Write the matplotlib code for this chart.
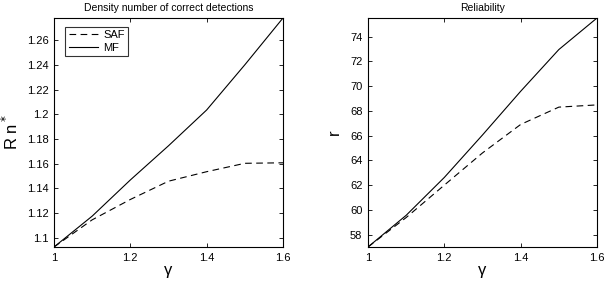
import matplotlib
matplotlib.use("Agg")
import matplotlib.pyplot as plt

plt.rcParams['font.family'] = ['Liberation Sans', 'DejaVu Sans']

gamma = [1.0, 1.1, 1.2, 1.3, 1.4, 1.5, 1.6]
rn_saf = [1.0925, 1.1145, 1.131, 1.1458, 1.1535, 1.1603, 1.1607]
rn_mf = [1.0925, 1.1175, 1.1468, 1.1745, 1.2035, 1.2401, 1.278]
r_saf = [57.0, 59.38, 62.0, 64.6, 66.9, 68.3, 68.48]
r_mf = [57.0, 59.56, 62.62, 66.05, 69.58, 72.95, 75.5]

left_ticks = [1.1, 1.12, 1.14, 1.16, 1.18, 1.2, 1.22, 1.24, 1.26]
left_ticklabels = ['1.1', '1.12', '1.14', '1.16', '1.18', '1.2', '1.22', '1.24', '1.26']
right_ticks = [58, 60, 62, 64, 66, 68, 70, 72, 74]
x_ticks = [1.0, 1.2, 1.4, 1.6]
x_ticklabels = ['1', '1.2', '1.4', '1.6']

W, H = 606, 283
fig = plt.figure(figsize=(W / 100, H / 100), dpi=100)

ax1 = fig.add_axes([54 / W, 36 / H, 229 / W, 229 / H])
ax2 = fig.add_axes([368 / W, 36 / H, 229 / W, 229 / H])

lw = 0.8
for ax in (ax1, ax2):
    ax.tick_params(direction='in', top=True, right=True, labelsize=8,
                   length=3, width=0.6, pad=4)
    for s in ax.spines.values():
        s.set_linewidth(0.8)
    ax.set_xlim(1.0, 1.6)
    ax.set_xticks(x_ticks)
    ax.set_xticklabels(x_ticklabels)
    ax.set_xlabel('γ', fontsize=12, labelpad=0)

ax1.plot(gamma, rn_saf, color='black', linestyle=(0, (6, 4)), linewidth=lw, label='SAF')
ax1.plot(gamma, rn_mf, color='black', linestyle='-', linewidth=lw, label='MF')
ax1.set_ylim(1.0925, 1.278)
ax1.set_yticks(left_ticks)
ax1.set_yticklabels(left_ticklabels)
ax1.set_title('Density number of correct detections', fontsize=7.5, pad=5)
ax1.set_ylabel('R n$^*$', fontsize=12, labelpad=4)
leg = ax1.legend(loc='upper left', bbox_to_anchor=(0.025, 0.985), fontsize=8,
                 frameon=True, fancybox=False, handlelength=2.6, borderpad=0.3,
                 labelspacing=0.2, handletextpad=0.5)
leg.get_frame().set_edgecolor('black')
leg.get_frame().set_linewidth(0.8)

ax2.plot(gamma, r_saf, color='black', linestyle=(0, (6, 4)), linewidth=lw)
ax2.plot(gamma, r_mf, color='black', linestyle='-', linewidth=lw)
ax2.set_ylim(57.0, 75.5)
ax2.set_yticks(right_ticks)
ax2.set_title('Reliability', fontsize=7.5, pad=5)
ax2.set_ylabel('r', fontsize=12, labelpad=6)

fig.savefig('out.png', dpi=100)
